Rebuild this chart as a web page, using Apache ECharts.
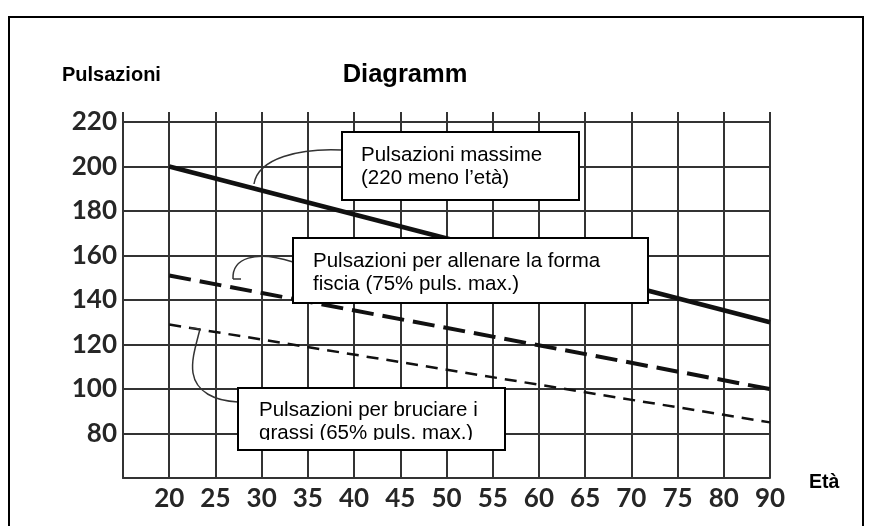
<!DOCTYPE html>
<html>
<head>
<meta charset="utf-8">
<script src="https://cdn.jsdelivr.net/npm/echarts@6/dist/echarts.min.js"></script>
<style>html,body{margin:0;padding:0;background:#fff}#c{width:869px;height:526px}</style>
</head>
<body>
<div id="c"></div>
<script>
// Data
const categories = ['', '20', '25', '30', '35', '40', '45', '50', '55', '60', '65', '70', '75', '80', '90'];
const maxPulse = [['20', 200], ['90', 130]];        // Pulsazioni massime (220 meno l'età)
const fitnessPulse = [['20', 151], ['90', 100]];    // 75% puls. max.
const fatBurnPulse = [['20', 129], ['90', 85]];     // 65% puls. max.
const yTicks = [60, 80, 100, 120, 140, 160, 180, 200, 220];

const chart = echarts.init(document.getElementById('c'), null, {renderer: 'canvas'});
const gridColor = '#333';
const labelFont = {fontFamily: 'Lato', fontWeight: 'bold', fontSize: 26, color: '#262626'};
const leader = {fill: 'none', stroke: '#333', lineWidth: 1.5};
const boxText = {fontFamily: 'Liberation Sans', fontSize: 20.5, lineHeight: 23, fill: '#000', verticalAlign: 'middle'};

chart.setOption({
  animation: false,
  backgroundColor: '#fff',
  grid: {left: 123, right: 99, top: 122, bottom: 48},
  xAxis: [{
    type: 'category', data: categories, boundaryGap: false, position: 'bottom',
    axisLine: {show: true, lineStyle: {color: gridColor, width: 2}},
    axisTick: {show: false},
    axisLabel: Object.assign({margin: 8, interval: 0}, labelFont),
    splitLine: {show: true, interval: 0, lineStyle: {color: gridColor, width: 2}}
  }, {
    type: 'category', data: categories, boundaryGap: false, position: 'top',
    axisLine: {show: false},
    axisTick: {show: true, length: 10, inside: false, interval: 0, lineStyle: {color: gridColor, width: 2}},
    axisLabel: {show: false},
    splitLine: {show: false}
  }],
  yAxis: {
    type: 'value', min: yTicks[0], max: yTicks[yTicks.length - 1], interval: 20,
    axisLine: {show: true, lineStyle: {color: gridColor, width: 2}},
    axisTick: {show: false},
    axisLabel: Object.assign({margin: 6, formatter: v => (v === yTicks[0] ? '' : String(v))}, labelFont),
    splitLine: {show: true, lineStyle: {color: gridColor, width: 2}}
  },
  series: [{
    name: 'Pulsazioni massime', type: 'line', data: maxPulse, symbol: 'none',
    lineStyle: {color: '#111', width: 4.5, type: 'solid'}, z: 5
  }, {
    name: 'Pulsazioni per allenare la forma fiscia', type: 'line', data: fitnessPulse, symbol: 'none',
    lineStyle: {color: '#111', width: 4, type: [22, 9]}, z: 5
  }, {
    name: 'Pulsazioni per bruciare i grassi', type: 'line', data: fatBurnPulse, symbol: 'none',
    lineStyle: {color: '#111', width: 2.5, type: [12, 8]}, z: 5
  }],
  graphic: [
    // outer frame
    {type: 'rect', z: 100, shape: {x: 9, y: 17, width: 854, height: 530}, style: {fill: 'none', stroke: '#000', lineWidth: 2}},
    // titles
    {type: 'text', z: 100, x: 62, y: 75, style: {text: 'Pulsazioni', fontFamily: 'Liberation Sans', fontWeight: 'bold', fontSize: 20, fill: '#000', verticalAlign: 'middle'}},
    {type: 'text', z: 100, x: 405, y: 75, style: {text: 'Diagramm', fontFamily: 'Liberation Sans', fontWeight: 'bold', fontSize: 25.5, fill: '#000', align: 'center', verticalAlign: 'middle'}},
    {type: 'text', z: 100, x: 809, y: 483, style: {text: 'Età', fontFamily: 'Liberation Sans', fontWeight: 'bold', fontSize: 19.5, fill: '#000', verticalAlign: 'middle'}},
    // leader curves
    {type: 'bezierCurve', z: 90, shape: {x1: 342, y1: 150, cpx1: 300, cpy1: 148, cpx2: 258, cpy2: 158, x2: 254, y2: 184}, style: leader},
    {type: 'bezierCurve', z: 90, shape: {x1: 293, y1: 262, cpx1: 255, cpy1: 250, cpx2: 232, cpy2: 258, x2: 233, y2: 279}, style: leader},
    {type: 'line', z: 90, shape: {x1: 233, y1: 279, x2: 241, y2: 279}, style: leader},
    {type: 'line', z: 90, shape: {x1: 190, y1: 328, x2: 200, y2: 329}, style: leader},
    {type: 'bezierCurve', z: 90, shape: {x1: 200, y1: 329, cpx1: 196, cpy1: 345, cpx2: 191, cpy2: 360, x2: 193, y2: 373}, style: leader},
    {type: 'bezierCurve', z: 90, shape: {x1: 193, y1: 373, cpx1: 196, cpy1: 392, cpx2: 215, cpy2: 401, x2: 238, y2: 402}, style: leader},
    // box 1
    {type: 'rect', z: 100, shape: {x: 342, y: 132, width: 237, height: 68}, style: {fill: '#fff', stroke: '#000', lineWidth: 2}},
    {type: 'text', z: 101, x: 361, y: 167, style: Object.assign({text: 'Pulsazioni massime\n(220 meno l\u2019età)'}, boxText)},
    // box 2
    {type: 'rect', z: 100, shape: {x: 293, y: 238, width: 355, height: 65}, style: {fill: '#fff', stroke: '#000', lineWidth: 2}},
    {type: 'text', z: 101, x: 313, y: 273, style: Object.assign({text: 'Pulsazioni per allenare la forma\nfiscia (75% puls. max.)'}, boxText)},
    // box 3
    {type: 'rect', z: 100, shape: {x: 238, y: 388, width: 267, height: 62}, style: {fill: '#fff', stroke: '#000', lineWidth: 2}},
    {type: 'text', z: 101, x: 259, y: 422, style: Object.assign({text: 'Pulsazioni per bruciare i\ngrassi (65% puls. max.)'}, boxText)},
    {type: 'rect', z: 102, shape: {x: 240, y: 440, width: 263, height: 9}, style: {fill: '#fff'}}
  ]
});
</script>
</body>
</html>
